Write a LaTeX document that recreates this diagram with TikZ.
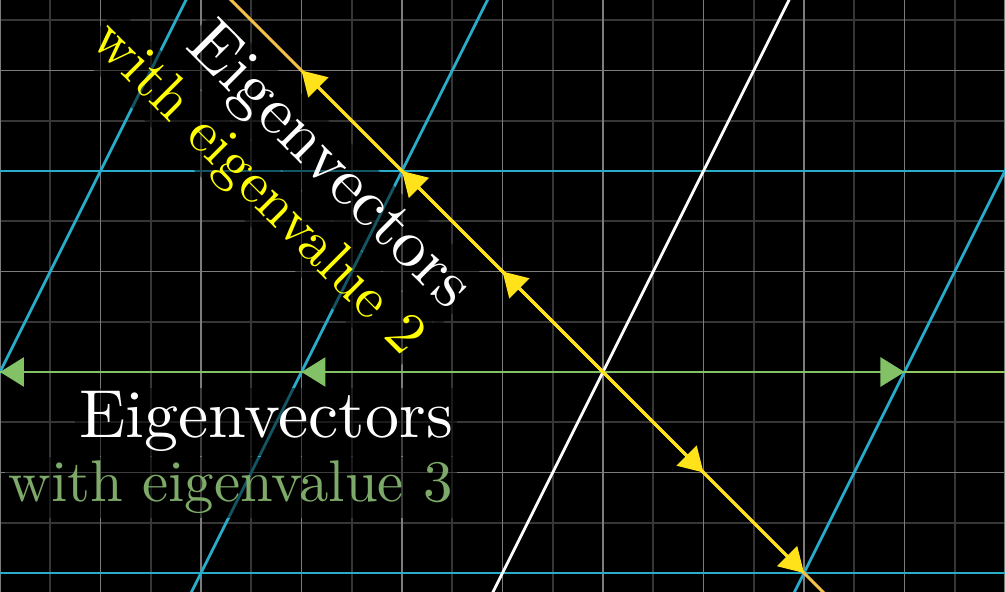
\documentclass[tikz,border=0pt]{standalone}
\usepackage{fontspec}
\setmainfont{lmroman10-regular.otf}
\usetikzlibrary{arrows.meta}
\definecolor{gridc}{HTML}{7C7C7C}
\definecolor{gridf}{HTML}{363636}
\definecolor{blueD}{HTML}{29ABCA}
\definecolor{greenL}{HTML}{92C862}
\definecolor{greenA}{HTML}{83C167}
\definecolor{yellowA}{HTML}{FFE21A}
\definecolor{goldL}{HTML}{F2C046}
\definecolor{greenT}{HTML}{7DAA68}
\definecolor{yellowT}{HTML}{FFFF00}
\tikzset{
  gridmaj/.style={draw=gridc, line width=1.7pt},
  gridmin/.style={draw=gridf, line width=1.7pt},
  tline/.style={draw=blueD, line width=2.8pt},
  wline/.style={draw=white, line width=2.8pt},
  gline/.style={draw=greenL, line width=2.8pt},
  yline/.style={draw=goldL, line width=3pt},
  gvec/.style={draw=greenA, fill=greenA, line width=2.8pt, -{Triangle[length=24pt,width=29pt]}},
  yvec/.style={draw=yellowA, fill=yellowA, line width=3pt, -{Triangle[length=24pt,width=28pt]}},
  bigtxt/.style={font=\fontsize{68}{80}\selectfont, inner sep=4pt},
  smalltxt/.style={font=\fontsize{58.8}{70}\selectfont, inner sep=4pt},
  backdrop/.style={fill=black, fill opacity=0.5, text opacity=1},
}
\begin{document}
\begin{tikzpicture}[x=100.5pt, y=100.5pt]
\useasboundingbox (-6,-2.1891) rectangle (4,3.7015);
\fill[black] (-6,-2.1891) rectangle (4,3.7015);
\clip (-6,-2.1891) rectangle (4,3.7015);
% background grid
\foreach \i in {-5.5,-4.5,...,3.5} \draw[gridmin] (\i,-2.4) -- (\i,3.9);
\foreach \j in {-2.5,-1.5,...,3.5} \draw[gridmin] (-6.2,\j) -- (4.2,\j);
\foreach \i in {-6,...,4} \draw[gridmaj] (\i,-2.4) -- (\i,3.9);
\foreach \j in {-2,...,3} \draw[gridmaj] (-6.2,\j) -- (4.2,\j);
% transformed grid
\foreach \c in {-2,-1,1} \draw[tline] ({3*\c-1.25},-2.5) -- ({3*\c+1.95},3.9);
\draw[tline] (-6.2,2) -- (4.2,2);
\draw[tline] (-6.2,-2) -- (4.2,-2);
\draw[wline] (-1.25,-2.5) -- (1.95,3.9);
% eigen lines
\coordinate (O) at (0,0);
\coordinate (gL) at (-6.3,0);
\coordinate (gR) at (4.3,0);
\coordinate (yT) at (-3.9,3.9);
\coordinate (yB) at (2.4,-2.4);
\draw[gline] (gL) -- (gR);
\draw[yline] (yT) -- (yB);
% green eigenvectors
\coordinate (g1) at (-3,0);
\coordinate (g2) at (-6,0);
\coordinate (g3) at (3,0);
\draw[gvec] (O) -- (g2);
\draw[gvec] (O) -- (g1);
\draw[gvec] (O) -- (g3);
% yellow eigenvectors
\coordinate (y1) at (-1,1);
\coordinate (y2) at (-2,2);
\coordinate (y3) at (-3,3);
\coordinate (y4) at (1,-1);
\coordinate (y5) at (2,-2);
\draw[yvec] (O) -- (y3);
\draw[yvec] (O) -- (y2);
\draw[yvec] (O) -- (y1);
\draw[yvec] (O) -- (y5);
\draw[yvec] (O) -- (y4);
% text anchors
\coordinate (pA) at (-1.4527,-0.6567);
\coordinate (pB) at (-1.4527,-1.2935);
\coordinate (pC) at (-1.5070,0.5710);
\coordinate (pD) at (-1.9543,0.1204);
% labels
\node[bigtxt, backdrop, text=white, anchor=base east] (tA) at (pA) {Eigenvectors};
\node[smalltxt, backdrop, text=greenT, anchor=base east] (tB) at (pB) {with eigenvalue 3};
\node[bigtxt, backdrop, text=white, anchor=base east, rotate=-45] (tC) at (pC) {Eigenvectors};
\node[smalltxt, backdrop, text=yellowT, anchor=base east, rotate=-45] (tD) at (pD) {with eigenvalue 2};
\end{tikzpicture}
\end{document}
